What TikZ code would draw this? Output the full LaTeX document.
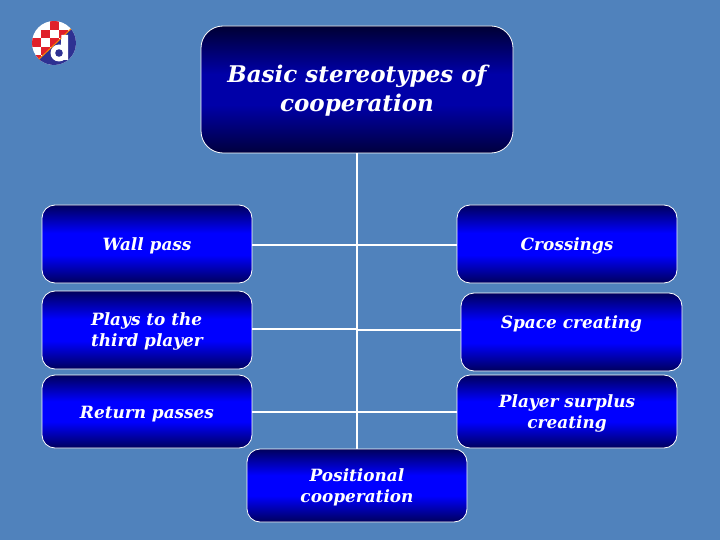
\documentclass[tikz,border=0pt]{standalone}
\usepackage{fontspec}
\setmainfont{DejaVu Serif}
\definecolor{bgblue}{HTML}{5082BC}
\definecolor{navy}{HTML}{2E3192}
\definecolor{logored}{HTML}{E0202A}
\pgfdeclareverticalshading{boxshade}{100bp}{
  rgb(0bp)=(0,0,0.36); rgb(25bp)=(0,0,0.36); rgb(43bp)=(0,0,1); rgb(57bp)=(0,0,1); rgb(75bp)=(0,0,0.36); rgb(100bp)=(0,0,0.36)}
\pgfdeclareverticalshading{topshade}{100bp}{
  rgb(0bp)=(0,0,0.24); rgb(25bp)=(0,0,0.24); rgb(44bp)=(0,0,0.66); rgb(56bp)=(0,0,0.66); rgb(75bp)=(0,0,0.2); rgb(100bp)=(0,0,0.2)}
\newcommand\boxtext[2][-7pt]{\raisebox{#1}[0pt][0pt]{\begin{tabular}[c]{@{}c@{}}#2\end{tabular}}}
\tikzset{
  box/.style={draw=white,line width=0.8pt,rounded corners=13pt,inner sep=0pt,
    shading=boxshade,
    text=white,font=\bfseries\itshape\fontsize{16.9}{21}\selectfont},
  topbox/.style={box,rounded corners=22pt,shading=topshade,
    font=\bfseries\itshape\fontsize{23}{29.5}\selectfont},
  link/.style={draw=white,line width=2pt},
}
\begin{document}
\begin{tikzpicture}[x=1pt,y=-1pt]
\path[fill=bgblue] (0,0) rectangle (720,540);
\useasboundingbox (0,0) rectangle (720,540);
% logo
\begin{scope}
\clip (54,43) circle (22);
\fill[white] (32,21) rectangle (76,65);
\foreach \i/\j in {2/0,1/1,3/1,0/2,2/2,1/3,0/4}{
  \fill[logored] ({32+\i*9},{21.5+\j*8.5}) rectangle ++(9,8.5);}
\fill[navy] (36,62) -- (74,26) -- (80,70) -- cycle;
\draw[orange,line width=1pt] (37,61) -- (73,27);
\fill[white] (61.5,35) -- (68,35) -- (68,60) -- (60,60) -- cycle;
\fill[white] (59,53) circle (8.5);
\fill[navy] (59,53) circle (3.8);
\end{scope}
\node[topbox,minimum width=312pt,minimum height=127pt] (top) at (357,89.5) {\boxtext[-8pt]{Basic stereotypes of\\cooperation}};
\node[box,minimum width=210pt,minimum height=78pt] (wall) at (147,244) {\boxtext{Wall pass}};
\node[box,minimum width=220pt,minimum height=78pt] (cross) at (567,244) {\boxtext{Crossings}};
\node[box,minimum width=210pt,minimum height=78pt] (plays) at (147,330) {\raisebox{-6.5pt}[0pt][0pt]{\begin{tabular}[c]{@{}l@{}}Plays to the\\third player\end{tabular}}};
\node[box,minimum width=221pt,minimum height=78pt] (space) at (571.5,332) {\boxtext[3.5pt]{Space creating}};
\node[box,minimum width=210pt,minimum height=73pt] (ret) at (147,411.5) {\boxtext{Return passes}};
\node[box,minimum width=220pt,minimum height=73pt] (surplus) at (567,411.5) {\boxtext{Player surplus\\creating}};
\node[box,minimum width=220pt,minimum height=73pt] (pos) at (357,485.5) {\boxtext{Positional\\cooperation}};
\draw[link] (top.south) -- (pos.north);
\draw[link] ([yshift=-1pt]wall.east) -- ([yshift=-1pt]cross.west);
\draw[link] ([yshift=1pt]plays.east) -- ([yshift=1pt]plays.east -| top.south);
\draw[link] ([yshift=2pt]space.west) -- ([yshift=2pt]space.west -| top.south);
\draw[link] (ret.east) -- (surplus.west);
\end{tikzpicture}
\end{document}
